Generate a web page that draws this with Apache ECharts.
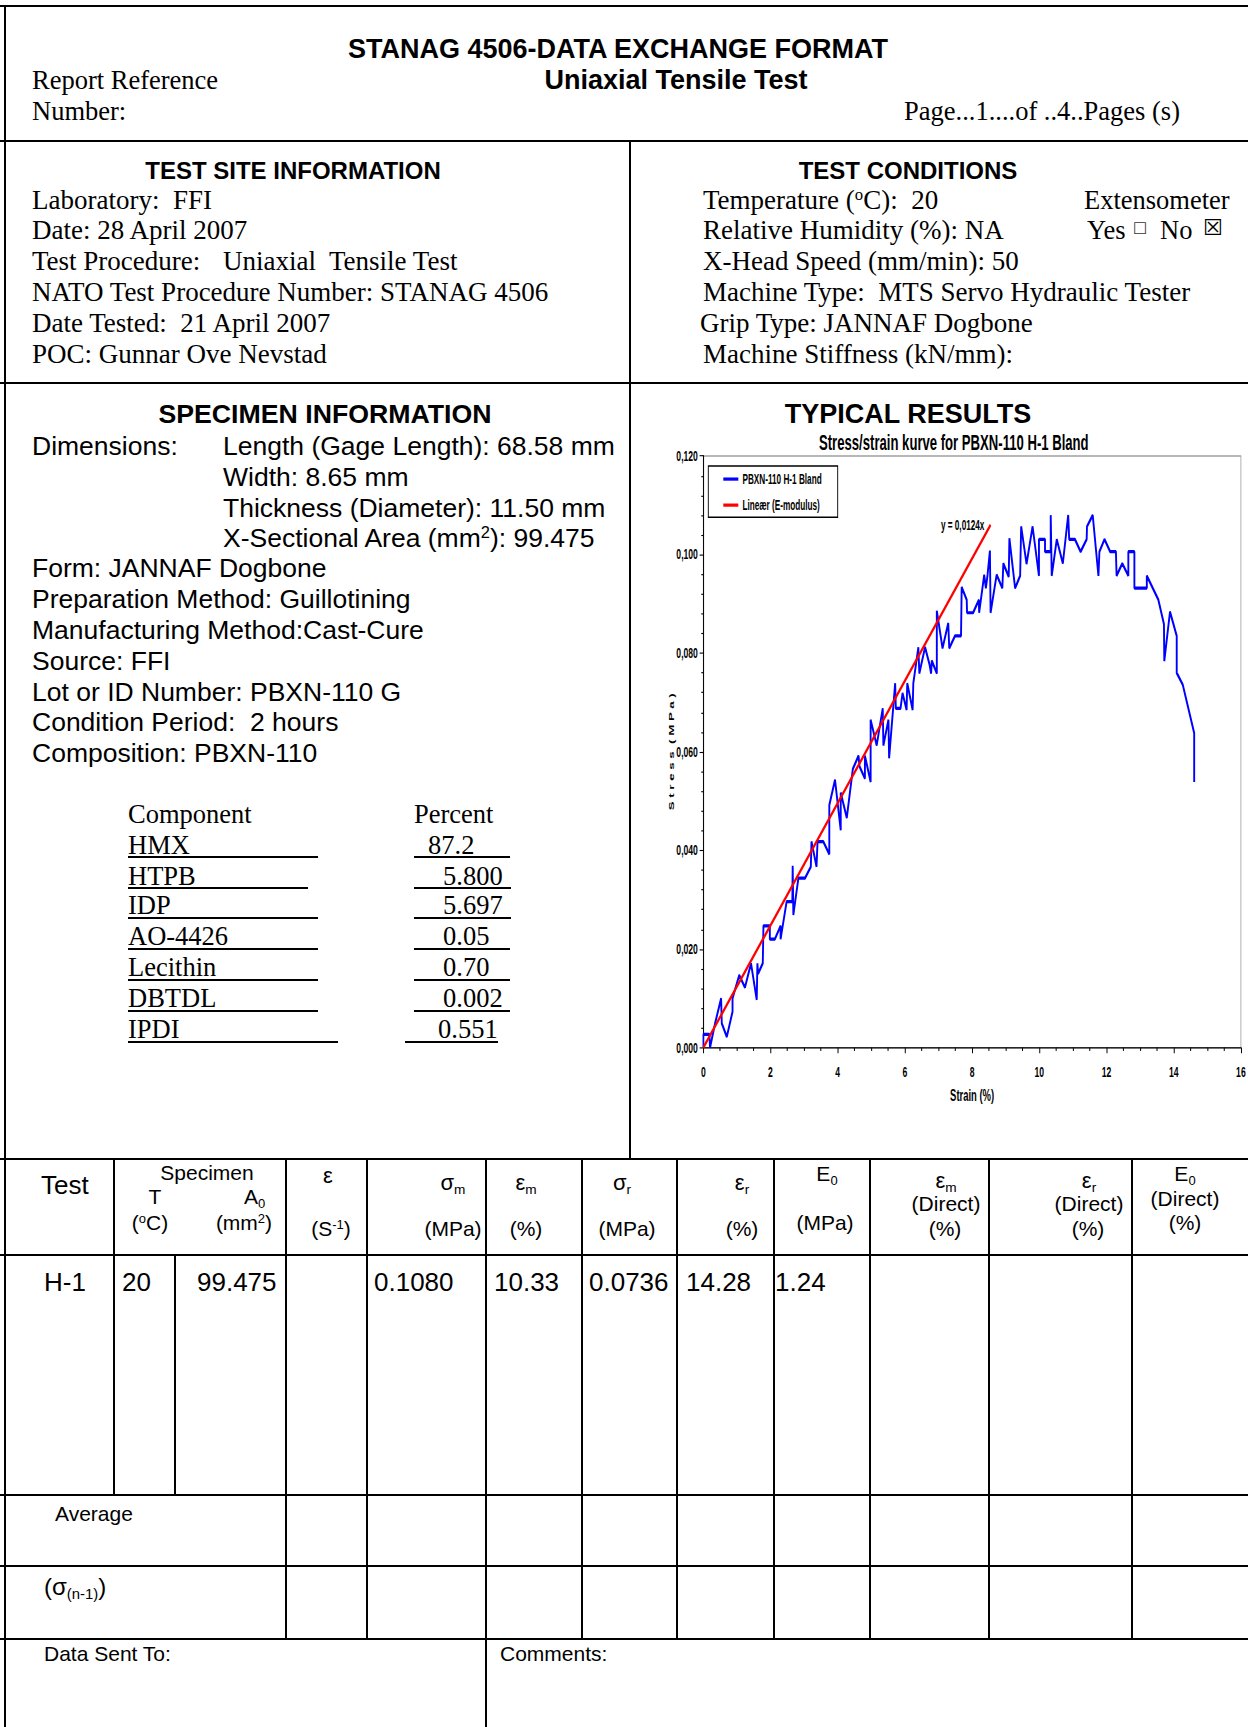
<!DOCTYPE html>
<html>
<head>
<meta charset="utf-8">
<title>STANAG 4506 - Uniaxial Tensile Test</title>
<script src="https://cdn.jsdelivr.net/npm/echarts@6.0.0/dist/echarts.min.js"></script>
<style>
html,body{margin:0;padding:0;background:#fff;}
#page{position:relative;width:1248px;height:1727px;overflow:hidden;background:#fff;color:#000;}
.t{position:absolute;white-space:pre;line-height:1;}
.a{font-family:'Liberation Sans',Arial,sans-serif;}
.s{font-family:'Liberation Serif','Times New Roman',serif;}
.b{font-weight:bold;}
.c{text-align:center;width:800px;}
.c2{text-align:center;width:200px;}
.r{text-align:right;width:400px;}
.h{position:absolute;left:0;width:1248px;height:2px;background:#000;}
.v{position:absolute;width:2px;background:#000;}
.u{position:absolute;height:1.5px;background:#000;}
.box{font-family:'DejaVu Sans',sans-serif;}
sub{font-size:0.62em;vertical-align:-0.3em;line-height:0;}
sup{font-size:0.62em;vertical-align:0.55em;line-height:0;}
/* the chart is drawn on a narrow, tall canvas (condensed lettering) */
#chart{position:absolute;left:640px;top:420px;width:741.46px;height:500px;transform:scale(0.82,1.4);transform-origin:0 0;}
</style>
</head>
<body>
<div id="page">
  <!-- header -->
  <div class="t a b c" style="left:218px;top:36px;font-size:27px;">STANAG 4506-DATA EXCHANGE FORMAT</div>
  <div class="t a b c" style="left:276px;top:67px;font-size:27px;">Uniaxial Tensile Test</div>
  <div class="t s" style="left:32px;top:67px;font-size:26.5px;">Report Reference</div>
  <div class="t s" style="left:32px;top:98px;font-size:26.5px;">Number:</div>
  <div class="t s r" style="left:780px;top:98px;font-size:26.5px;">Page...1....of ..4..Pages (s)</div>

  <!-- test site information -->
  <div class="t a b c" style="left:-107px;top:159px;font-size:24px;">TEST SITE INFORMATION</div>
  <div class="t s" style="left:32px;top:187px;font-size:27px;">Laboratory:  FFI</div>
  <div class="t s" style="left:32px;top:217px;font-size:27px;">Date: 28 April 2007</div>
  <div class="t s" style="left:32px;top:248px;font-size:27px;">Test Procedure:</div>
  <div class="t s" style="left:223px;top:248px;font-size:27px;">Uniaxial  Tensile Test</div>
  <div class="t s" style="left:32px;top:279px;font-size:27px;">NATO Test Procedure Number: STANAG 4506</div>
  <div class="t s" style="left:32px;top:310px;font-size:27px;">Date Tested:  21 April 2007</div>
  <div class="t s" style="left:32px;top:341px;font-size:27px;">POC: Gunnar Ove Nevstad</div>

  <!-- test conditions -->
  <div class="t a b c" style="left:508px;top:159px;font-size:24px;">TEST CONDITIONS</div>
  <div class="t s" style="left:703px;top:187px;font-size:27px;">Temperature (<sup>o</sup>C):  20</div>
  <div class="t s" style="left:1084px;top:187px;font-size:26.5px;">Extensometer</div>
  <div class="t s" style="left:703px;top:217px;font-size:27px;">Relative Humidity (%): NA</div>
  <div class="t s" style="left:1087px;top:217px;font-size:26.5px;">Yes</div>
  <div class="t box" style="left:1133px;top:221px;font-size:16px;color:#333;">☐</div>
  <div class="t s" style="left:1160px;top:217px;font-size:26.5px;">No</div>
  <div class="t box" style="left:1203px;top:217px;font-size:22px;">☒</div>
  <div class="t s" style="left:703px;top:248px;font-size:27px;">X-Head Speed (mm/min): 50</div>
  <div class="t s" style="left:703px;top:279px;font-size:27px;">Machine Type:  MTS Servo Hydraulic Tester</div>
  <div class="t s" style="left:700px;top:310px;font-size:27px;">Grip Type: JANNAF Dogbone</div>
  <div class="t s" style="left:703px;top:341px;font-size:27px;">Machine Stiffness (kN/mm):</div>

  <!-- specimen information -->
  <div class="t a b c" style="left:-75px;top:401px;font-size:26.7px;">SPECIMEN INFORMATION</div>
  <div class="t a" style="left:32px;top:433px;font-size:26.5px;">Dimensions:</div>
  <div class="t a" style="left:223px;top:433px;font-size:26.5px;">Length (Gage Length): 68.58 mm</div>
  <div class="t a" style="left:223px;top:464px;font-size:26.5px;">Width: 8.65 mm</div>
  <div class="t a" style="left:223px;top:495px;font-size:26.5px;">Thickness (Diameter): 11.50 mm</div>
  <div class="t a" style="left:223px;top:525px;font-size:26.5px;">X-Sectional Area (mm<sup>2</sup>): 99.475</div>
  <div class="t a" style="left:32px;top:555px;font-size:26.5px;">Form: JANNAF Dogbone</div>
  <div class="t a" style="left:32px;top:586px;font-size:26.5px;">Preparation Method: Guillotining</div>
  <div class="t a" style="left:32px;top:617px;font-size:26.5px;">Manufacturing Method:Cast-Cure</div>
  <div class="t a" style="left:32px;top:648px;font-size:26.5px;">Source: FFI</div>
  <div class="t a" style="left:32px;top:679px;font-size:26.5px;">Lot or ID Number: PBXN-110 G</div>
  <div class="t a" style="left:32px;top:709px;font-size:26.5px;">Condition Period:  2 hours</div>
  <div class="t a" style="left:32px;top:740px;font-size:26.5px;">Composition: PBXN-110</div>

  <!-- composition table -->
  <div class="t s" style="left:128px;top:801px;font-size:26.5px;">Component</div>
  <div class="t s" style="left:414px;top:801px;font-size:26.5px;">Percent</div>
  <div class="t s" style="left:128px;top:832px;font-size:26.5px;">HMX</div>
  <div class="t s" style="left:428px;top:832px;font-size:26.5px;">87.2</div>
  <div class="t s" style="left:128px;top:863px;font-size:26.5px;">HTPB</div>
  <div class="t s" style="left:443px;top:863px;font-size:26.5px;">5.800</div>
  <div class="t s" style="left:128px;top:892px;font-size:26.5px;">IDP</div>
  <div class="t s" style="left:443px;top:892px;font-size:26.5px;">5.697</div>
  <div class="t s" style="left:128px;top:923px;font-size:26.5px;">AO-4426</div>
  <div class="t s" style="left:443px;top:923px;font-size:26.5px;">0.05</div>
  <div class="t s" style="left:128px;top:954px;font-size:26.5px;">Lecithin</div>
  <div class="t s" style="left:443px;top:954px;font-size:26.5px;">0.70</div>
  <div class="t s" style="left:128px;top:985px;font-size:26.5px;">DBTDL</div>
  <div class="t s" style="left:443px;top:985px;font-size:26.5px;">0.002</div>
  <div class="t s" style="left:128px;top:1016px;font-size:26.5px;">IPDI</div>
  <div class="t s" style="left:438px;top:1016px;font-size:26.5px;">0.551</div>

  <!-- typical results -->
  <div class="t a b c" style="left:508px;top:401px;font-size:27px;z-index:2;">TYPICAL RESULTS</div>
  <div id="chart"></div>

  <!-- results table header -->
  <div class="t a" style="left:41px;top:1172px;font-size:26px;">Test</div>
  <div class="t a c2" style="left:107px;top:1162px;font-size:21px;">Specimen</div>
  <div class="t a c2" style="left:55px;top:1186px;font-size:21px;">T</div>
  <div class="t a" style="left:244px;top:1186px;font-size:21px;">A<sub>0</sub></div>
  <div class="t a c2" style="left:50px;top:1212px;font-size:21px;">(<sup>o</sup>C)</div>
  <div class="t a c2" style="left:144px;top:1212px;font-size:21px;">(mm<sup>2</sup>)</div>
  <div class="t a c2" style="left:228px;top:1165px;font-size:22px;">ε</div>
  <div class="t a c2" style="left:231px;top:1218px;font-size:21px;">(S<sup>-1</sup>)</div>
  <div class="t a c2" style="left:353px;top:1172px;font-size:22px;">σ<sub>m</sub></div>
  <div class="t a c2" style="left:353px;top:1218px;font-size:21px;">(MPa)</div>
  <div class="t a c2" style="left:426px;top:1172px;font-size:22px;">ε<sub>m</sub></div>
  <div class="t a c2" style="left:426px;top:1218px;font-size:21px;">(%)</div>
  <div class="t a c2" style="left:522px;top:1172px;font-size:22px;">σ<sub>r</sub></div>
  <div class="t a c2" style="left:527px;top:1218px;font-size:21px;">(MPa)</div>
  <div class="t a c2" style="left:642px;top:1172px;font-size:22px;">ε<sub>r</sub></div>
  <div class="t a c2" style="left:642px;top:1218px;font-size:21px;">(%)</div>
  <div class="t a c2" style="left:727px;top:1163px;font-size:21px;">E<sub>0</sub></div>
  <div class="t a c2" style="left:725px;top:1212px;font-size:21px;">(MPa)</div>
  <div class="t a c2" style="left:846px;top:1170px;font-size:22px;">ε<sub>m</sub></div>
  <div class="t a c2" style="left:846px;top:1193px;font-size:21px;">(Direct)</div>
  <div class="t a c2" style="left:845px;top:1218px;font-size:21px;">(%)</div>
  <div class="t a c2" style="left:989px;top:1170px;font-size:22px;">ε<sub>r</sub></div>
  <div class="t a c2" style="left:989px;top:1193px;font-size:21px;">(Direct)</div>
  <div class="t a c2" style="left:988px;top:1218px;font-size:21px;">(%)</div>
  <div class="t a c2" style="left:1085px;top:1163px;font-size:21px;">E<sub>0</sub></div>
  <div class="t a c2" style="left:1085px;top:1188px;font-size:21px;">(Direct)</div>
  <div class="t a c2" style="left:1085px;top:1212px;font-size:21px;">(%)</div>

  <!-- results row -->
  <div class="t a" style="left:44px;top:1269px;font-size:26px;">H-1</div>
  <div class="t a" style="left:122px;top:1269px;font-size:26px;">20</div>
  <div class="t a" style="left:197px;top:1269px;font-size:26px;">99.475</div>
  <div class="t a" style="left:374px;top:1269px;font-size:26px;">0.1080</div>
  <div class="t a" style="left:494px;top:1269px;font-size:26px;">10.33</div>
  <div class="t a" style="left:589px;top:1269px;font-size:26px;">0.0736</div>
  <div class="t a" style="left:686px;top:1269px;font-size:26px;">14.28</div>
  <div class="t a" style="left:775px;top:1269px;font-size:26px;">1.24</div>

  <div class="t a" style="left:55px;top:1503px;font-size:21px;">Average</div>
  <div class="t a" style="left:44px;top:1575px;font-size:24px;">(σ<sub>(n-1)</sub>)</div>
  <div class="t a" style="left:44px;top:1643px;font-size:21px;">Data Sent To:</div>
  <div class="t a" style="left:500px;top:1643px;font-size:21px;">Comments:</div>
</div>

<script>
// ---- measured curve, specimen H-1 (strain in %, stress in MPa) ----
const strainPct = [
  0, 0, 0.18, 0.20, 0.35, 0.53, 0.55, 0.70, 0.87, 0.87,
  1.07, 1.24, 1.42, 1.59, 1.61, 1.63, 1.77, 1.79, 1.98, 1.98,
  2.13, 2.30, 2.30, 2.48, 2.65, 2.66, 2.68, 2.83, 3.03, 3.20,
  3.22, 3.37, 3.40, 3.57, 3.75, 3.75, 3.92, 4.09, 4.09, 4.27,
  4.45, 4.62, 4.65, 4.81, 4.81, 4.98, 4.98, 5.16, 5.34, 5.36,
  5.51, 5.53, 5.71, 5.73, 5.87, 5.93, 6.05, 6.07, 6.23, 6.25,
  6.40, 6.43, 6.60, 6.73, 6.78, 6.80, 6.95, 6.95, 7.12, 7.29,
  7.32, 7.49, 7.67, 7.69, 7.84, 7.85, 8.03, 8.20, 8.21, 8.36,
  8.41, 8.46, 8.53, 8.55, 8.73, 8.90, 8.93, 9.09, 9.11, 9.28,
  9.43, 9.46, 9.62, 9.80, 9.99, 9.99, 10.17, 10.17, 10.34, 10.34,
  10.37, 10.52, 10.70, 10.86, 10.89, 11.06, 11.23, 11.41, 11.42, 11.59,
  11.76, 11.79, 11.94, 12.11, 12.28, 12.30, 12.47, 12.65, 12.65, 12.83,
  12.83, 13.20, 13.20, 13.54, 13.71, 13.72, 13.89, 14.09, 14.09, 14.27,
  14.61, 14.61
];
const stressMPa = [
  0, 0.0027, 0.0027, 0, 0.0049, 0.0100, 0.0049, 0.0022, 0.0073, 0.0100,
  0.0147, 0.0122, 0.0171, 0.0097, 0.0171, 0.0150, 0.0171, 0.0247, 0.0247, 0.0220,
  0.0220, 0.0247, 0.0220, 0.0296, 0.0296, 0.0369, 0.0269, 0.0344, 0.0344, 0.0367,
  0.0418, 0.0367, 0.0418, 0.0418, 0.0392, 0.0492, 0.0543, 0.0441, 0.0517, 0.0466,
  0.0565, 0.0592, 0.0570, 0.0546, 0.0592, 0.0539, 0.0665, 0.0613, 0.0688, 0.0613,
  0.0665, 0.0587, 0.0739, 0.0688, 0.0688, 0.0719, 0.0685, 0.0739, 0.0685, 0.0739,
  0.0812, 0.0759, 0.0812, 0.0778, 0.0759, 0.0785, 0.0759, 0.0886, 0.0810, 0.0861,
  0.0810, 0.0835, 0.0835, 0.0934, 0.0908, 0.0882, 0.0882, 0.0908, 0.0882, 0.0959,
  0.0932, 0.0959, 0.1008, 0.0882, 0.0959, 0.0932, 0.0982, 0.0955, 0.1033, 0.0932,
  0.0957, 0.1057, 0.0981, 0.1057, 0.0957, 0.1031, 0.1031, 0.1006, 0.1006, 0.1080,
  0.0957, 0.1031, 0.0982, 0.1080, 0.1031, 0.1031, 0.1006, 0.1031, 0.1057, 0.1080,
  0.0957, 0.1006, 0.1031, 0.1006, 0.1006, 0.0957, 0.0982, 0.0957, 0.1006, 0.1006,
  0.0932, 0.0932, 0.0957, 0.0909, 0.0859, 0.0784, 0.0884, 0.0835, 0.0760, 0.0736,
  0.0638, 0.0539
];

// linear fit of the initial slope (E-modulus), y = slope * x
const modulusSlope = 0.0124;
const fitEndStrain = 8.55;

// axis ranges and tick steps
const strainTicks = { min: 0, max: 16, step: 2 };
const stressTicks = { min: 0, max: 0.12, step: 0.02 };

const seriesNames = ['PBXN-110 H-1 Bland', 'Lineær (E-modulus)'];
const chartTitle = 'Stress/strain kurve for PBXN-110 H-1 Bland';
const xAxisTitle = 'Strain (%)';
const yAxisTitle = 'S t r e s s  ( M P a )';

// ---- form rules ----
(function drawRules() {
  const page = document.getElementById('page');
  const add = (cls, css) => {
    const d = document.createElement('div');
    d.className = cls;
    d.style.cssText = css;
    page.appendChild(d);
  };
  [4.5, 140, 382, 1158, 1254, 1494, 1565, 1638].forEach(y => add('h', 'top:' + y + 'px'));
  add('v', 'left:4px;top:5px;height:1722px');
  add('v', 'left:629px;top:141px;height:1018px;width:1.5px');
  add('v', 'left:112.5px;top:1159px;height:336px');
  add('v', 'left:174px;top:1255px;height:240px');
  add('v', 'left:484.8px;top:1159px;height:568px');
  [285.4, 365.8, 580.6, 676.4, 773.4, 869.2, 988.2, 1131.4].forEach(x =>
    add('v', 'left:' + x + 'px;top:1159px;height:480px'));
  // underlines of the composition table
  const rows = [856, 887, 917, 948, 979, 1010, 1041];
  const nameEnds = [318, 308, 318, 318, 318, 318, 338];
  const valStarts = [414, 414, 414, 414, 414, 414, 405];
  const valEnds = [510, 511, 511, 510, 510, 510, 498];
  rows.forEach((y, i) => {
    add('u', 'top:' + y + 'px;left:128px;width:' + (nameEnds[i] - 128) + 'px');
    add('u', 'top:' + y + 'px;left:' + valStarts[i] + 'px;width:' + (valEnds[i] - valStarts[i]) + 'px');
  });
})();

// ---- stress/strain chart ----
const SANS = "'Liberation Sans',Arial,sans-serif";
const labelFont = { fontFamily: SANS, fontWeight: 'bold', color: '#000' };

const chart = echarts.init(document.getElementById('chart'), null, { renderer: 'svg' });
const curve = strainPct.map((x, i) => [x, stressMPa[i]]);
const fitLine = [[0, 0], [fitEndStrain, modulusSlope * fitEndStrain]];
const fitText = 'y = ' + String(modulusSlope).replace('.', ',') + 'x';

chart.setOption({
  animation: false,
  backgroundColor: 'transparent',
  title: {
    text: chartTitle,
    left: 218.3,
    top: 7.5,
    padding: 0,
    textStyle: Object.assign({ fontSize: 16, lineHeight: 16 }, labelFont)
  },
  legend: {
    data: seriesNames,
    orient: 'vertical',
    left: 83.3,
    top: 32.9,
    padding: [4.3, 19.5, 3.6, 18.3],
    icon: 'rect',
    itemWidth: 18.3,
    itemHeight: 2.3,
    itemGap: 8.6,
    borderColor: '#000',
    borderWidth: 1.1,
    backgroundColor: '#fff',
    textStyle: Object.assign({ fontSize: 10, lineHeight: 10 }, labelFont)
  },
  grid: {
    left: 77.2,
    right: 8.2,
    top: 25.7,
    height: 422.6,
    show: true,
    borderColor: '#a0a0a0',
    borderWidth: 1,
    outerBoundsMode: 'none'
  },
  xAxis: {
    type: 'value',
    min: strainTicks.min,
    max: strainTicks.max,
    interval: strainTicks.step,
    name: xAxisTitle,
    nameLocation: 'middle',
    nameGap: 27,
    nameTextStyle: Object.assign({ fontSize: 11.5 }, labelFont),
    axisLine: { show: true, onZero: false, lineStyle: { color: '#000', width: 1 } },
    axisTick: { show: true, length: 4, lineStyle: { color: '#000', width: 1.2 } },
    minorTick: { show: true, splitNumber: 4, length: 2.5, lineStyle: { color: '#000', width: 1.2 } },
    splitLine: { show: false },
    axisLabel: Object.assign({ fontSize: 10.5, margin: 12 }, labelFont)
  },
  yAxis: {
    type: 'value',
    min: stressTicks.min,
    max: stressTicks.max,
    interval: stressTicks.step,
    name: yAxisTitle,
    nameLocation: 'middle',
    nameGap: 33.8,
    nameMoveOverlap: false,
    nameTextStyle: Object.assign({ fontSize: 9.5 }, labelFont),
    axisLine: { show: true, onZero: false, lineStyle: { color: '#000', width: 1.25 } },
    axisTick: { show: true, length: 4.5, lineStyle: { color: '#000', width: 0.8 } },
    minorTick: { show: true, splitNumber: 5, length: 2.5, lineStyle: { color: '#000', width: 0.8 } },
    splitLine: { show: false },
    axisLabel: Object.assign({
      fontSize: 10.5,
      margin: 6.6,
      formatter: v => v.toFixed(3).replace('.', ',')
    }, labelFont)
  },
  series: [
    {
      name: seriesNames[0],
      type: 'line',
      data: curve,
      symbol: 'none',
      color: '#0000ff',
      lineStyle: { color: '#0000ff', width: 2.3 },
      z: 2
    },
    {
      name: seriesNames[1],
      type: 'line',
      data: fitLine,
      symbol: 'none',
      color: '#ff0000',
      lineStyle: { color: '#ff0000', width: 2.3 },
      z: 3,
      markPoint: {
        silent: true,
        symbol: 'circle',
        symbolSize: 1,
        itemStyle: { color: 'rgba(0,0,0,0)' },
        label: Object.assign({
          show: true,
          position: 'left',
          distance: 7,
          fontSize: 10,
          formatter: fitText
        }, labelFont),
        data: [{ coord: fitLine[1] }]
      }
    }
  ]
});
</script>
</body>
</html>
